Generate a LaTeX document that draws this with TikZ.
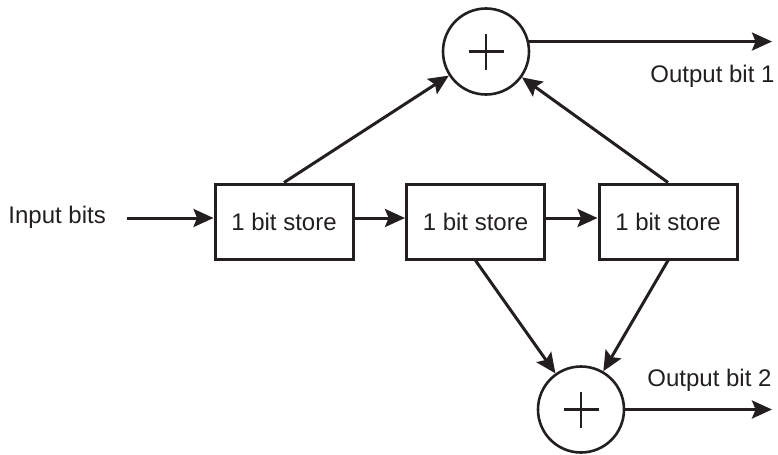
\documentclass[tikz,border=0pt]{standalone}
\usepackage{fontspec}
\setmainfont{Liberation Sans}
\usetikzlibrary{arrows.meta}
\definecolor{ink}{HTML}{231F20}
\begin{document}
\begin{tikzpicture}[x=0.5pt,y=-0.5pt,
  font=\fontsize{12}{14}\selectfont, color=ink,
  store/.style={draw=ink, line width=1.5pt, minimum width=69pt, minimum height=37.5pt, inner sep=0pt},
  xor/.style={circle, draw=ink, line width=1.3pt, minimum size=43pt, inner sep=0pt},
  conn/.style={draw=ink, line width=1.5pt, -{Stealth[length=10pt,width=9pt,inset=1.8pt]}},
  plusbar/.style={draw=ink, line width=1.4pt},
  lbl/.style={anchor=base west, inner sep=0pt}]
\useasboundingbox (0,0) rectangle (778,455);
\node[store] (b1) at (284,221.5) {1 bit store};
\node[store] (b2) at (475.5,221.5) {1 bit store};
\node[store] (b3) at (668,221.5) {1 bit store};
\node[xor] (c1) at (486,51.5) {};
\node[xor] (c2) at (581,409.5) {};
\draw[plusbar] ([xshift=-8.75pt]c1.center) -- ([xshift=8.75pt]c1.center);
\draw[plusbar] ([yshift=-9pt]c1.center) -- ([yshift=9pt]c1.center);
\draw[plusbar] ([xshift=-8.75pt]c2.center) -- ([xshift=8.75pt]c2.center);
\draw[plusbar] ([yshift=-9pt]c2.center) -- ([yshift=9pt]c2.center);
\node[lbl] (inl) at (8,223) {Input bits};
\node[lbl] (o1l) at (650,83) {Output bit 1};
\node[lbl] (o2l) at (647,386) {Output bit 2};
\coordinate (in) at (127,218);
\coordinate (o1) at (772,42);
\coordinate (o2) at (772,409.5);
\draw[conn] (in) -- (in -| b1.west);
\draw[conn] ([yshift=1.75pt]b1.east) -- ([yshift=1.75pt]b2.west);
\draw[conn] ([yshift=1.75pt]b2.east) -- ([yshift=1.75pt]b3.west);
\draw[conn] (b1.north) -- (c1);
\draw[conn] (b3.north) -- (c1);
\draw[conn] (b2.south) -- (c2);
\draw[conn] (b3.south) -- (c2);
\draw[conn] (c1.13) -- (c1.13 -| o1);
\draw[conn] (c2.east) -- (o2);
\end{tikzpicture}
\end{document}
